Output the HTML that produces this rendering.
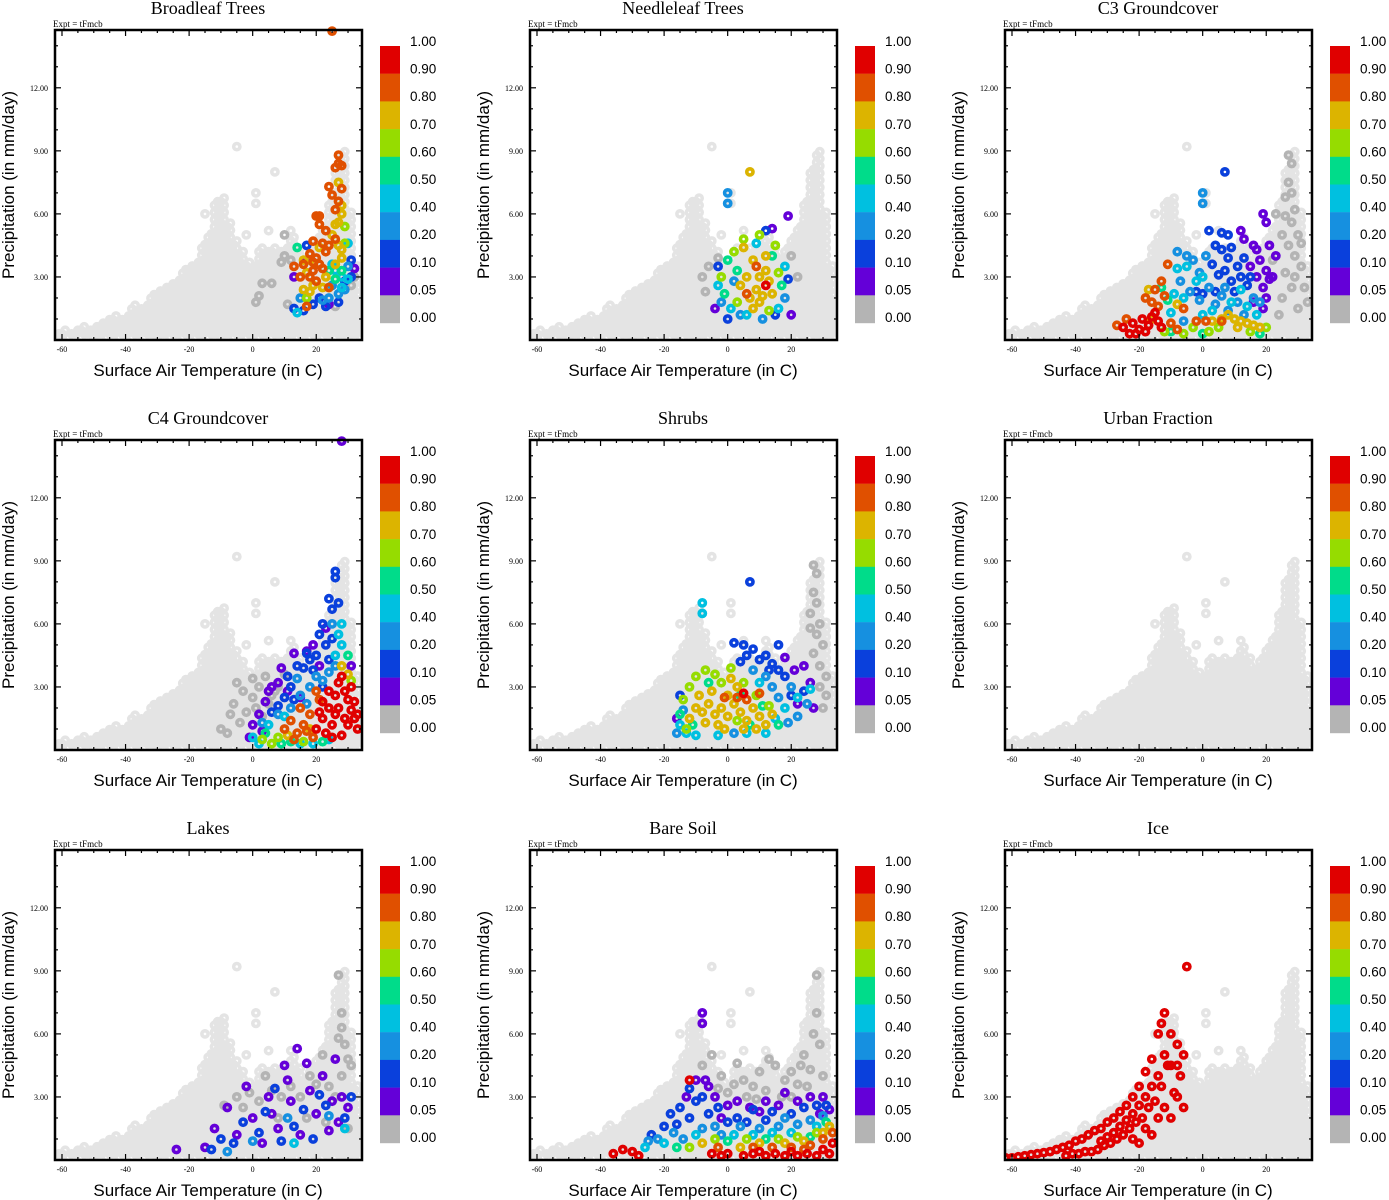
<!DOCTYPE html>
<html><head><meta charset="utf-8"><style>
html,body{margin:0;padding:0;background:#fff;}
svg{display:block;}
.ttl{font-family:"Liberation Serif",serif;font-size:18px;}
.ex{font-family:"Liberation Serif",serif;font-size:9px;}
.tk{font-family:"Liberation Serif",serif;font-size:8px;}
.ax{font-family:"Liberation Sans",sans-serif;font-size:17px;}
.cb{font-family:"Liberation Sans",sans-serif;font-size:13.5px;}
</style></head><body>
<svg id="fig" width="1389" height="1200" xmlns="http://www.w3.org/2000/svg"></svg>
<script>
const panelTitles=["Broadleaf Trees","Needleleaf Trees","C3 Groundcover","C4 Groundcover","Shrubs","Urban Fraction","Lakes","Bare Soil","Ice"];
const xTicks=[-60,-40,-20,0,20];
const yTicks=[3,6,9,12];
const cbLabels=["1.00","0.90","0.80","0.70","0.60","0.50","0.40","0.20","0.10","0.05","0.00"];
const classColors=["#b4b4b4","#6400d8","#0a40dc","#1690e0","#00c0e0","#00dc8a","#96dc00","#dcb400","#e05000","#e00000"];
// background envelope: [temperature, max precipitation of dense cloud]
const bgEnvelope=[[-62,0.2],[-60,0.3],[-58,0.35],[-56,0.4],[-54,0.5],[-52,0.6],[-50,0.7],[-48,0.8],[-46,0.9],[-44,1.0],[-42,1.1],[-40,1.3],[-38,1.5],[-36,1.6],[-34,1.8],[-32,2.0],[-30,2.2],[-28,2.5],[-26,2.6],[-24,2.8],[-22,3.2],[-20,3.4],[-18,3.8],[-16,4.5],[-14,5.0],[-12,6.5],[-10,6.8],[-8,5.5],[-6,4.8],[-4,4.2],[-2,3.8],[0,3.6],[2,4.2],[4,4.3],[6,4.2],[8,4.2],[10,4.5],[12,4.8],[14,4.2],[16,4.0],[18,4.5],[20,5.0],[22,5.5],[24,6.5],[26,8.0],[28,8.8],[30,6.0],[32,3.5],[34,2.0]];
const bgOutliers=[[-5,9.2],[7,8],[1,7],[1,6.5],[5,5.2],[-2,5],[12,5.2],[-15,6.0]];
const broadleaf=[[25,14.7,8],[27,8.8,8],[27,8.4,8],[26,8.2,8],[28,8.3,8],[24,7.3,8],[28,7.2,8],[25,6.9,8],[27,6.6,8],[26,6.2,8],[20,5.9,8],[21,5.9,8],[21,5.5,8],[23,5.2,8],[19,4.7,8],[22,4.6,8],[24,4.5,8],[18,4.1,8],[20,3.9,8],[21,3.6,8],[19,3.3,8],[16,3.6,8],[13,3.5,8],[22,3.4,8],[18,3.0,8],[15,3.0,8],[20,2.8,8],[24,2.5,8],[17,1.6,8],[26,4.8,8],[23,4.2,8],[19,3.7,8],
[27,7.5,7],[28,6.4,7],[28,6.0,7],[27,5.6,7],[26,5.5,7],[25,5.0,7],[27,4.5,7],[28,4.3,7],[21,4.4,7],[18,3.8,7],[16,3.8,7],[17,3.2,7],[19,2.6,7],[16,2.4,7],[18,2.3,7],[23,3.0,7],[26,3.6,7],[28,3.9,7],[22,2.5,7],
[29,5.4,6],[29,4.6,6],[24,2.5,6],[17,2.0,6],[14,4.4,5],[26,2.9,5],[28,3.3,5],[24,3.3,5],
[30,4.6,4],[25,3.6,4],[26,3.3,4],[28,3.0,4],[30,2.9,4],[14,1.3,4],[28,2.5,4],
[24,2.0,3],[27,2.2,3],[29,2.4,3],[15,2.0,3],[30,3.5,3],[22,1.9,3],[25,2.6,3],
[31,3.8,2],[17,4.5,2],[13,1.5,2],[16,1.4,2],[19,1.7,2],[21,2.0,2],[27,1.8,2],[29,2.8,2],[31,3.0,2],[23,1.6,2],
[13,3.0,1],[32,3.4,1],[24,1.7,1],[17,3.8,1],
[10,5.0,0],[10,4.0,0],[12,3.8,0],[9,3.7,0],[3,2.7,0],[6,2.7,0],[2,2.1,0],[1,1.8,0],[11,1.7,0],[26,1.6,0],[31,2.6,0],[32,3.0,0]];
const needleleaf=[[7,8,7],[0,7,3],[0,6.5,3],[19,5.9,1],
[5,4.4,7],[8,3.8,7],[10,3.0,7],[12,3.3,7],[6,3.0,7],[9,2.4,7],[11,2.1,7],[7,2.0,7],[13,2.8,7],[4,2.6,7],[8,1.5,7],[10,1.8,7],[12,4.0,7],[14,2.2,7],
[2,4.2,6],[5,4.8,6],[10,5.0,6],[15,4.5,6],[-2,3.0,6],[16,3.2,6],[3,1.8,6],[13,1.4,6],
[0,3.8,5],[-1,2.2,5],[14,4.0,5],[17,2.6,5],[3,3.3,5],
[-3,2.6,4],[1,1.5,4],[16,1.5,4],[18,3.5,4],[6,1.2,4],[9,4.6,4],
[-2,1.8,3],[2,2.8,3],[11,1.0,3],[18,2.0,3],[4,1.2,3],
[-3,3.5,2],[0,1.0,2],[15,1.2,2],[19,2.9,2],[12,5.2,2],
[-4,1.5,1],[20,1.2,1],[14,5.3,1],[9,3.5,8],[6,2.2,8],[12,2.6,9],
[-8,3.0,0],[-6,3.5,0],[-3,3.9,0],[-7,2.3,0],[20,4.0,0],[22,3.0,0]];
const c3=[[-25,0.6,9],[-22,0.8,9],[-20,0.5,9],[-19,1.0,9],[-17,0.7,9],[-16,1.1,9],[-14,0.9,9],[-13,0.6,9],[-18,0.4,9],[-21,0.3,9],[-15,1.3,9],[-23,0.3,9],
[-27,0.7,8],[-24,1.0,8],[-16,1.8,8],[-15,2.4,8],[-13,2.8,8],[-11,3.6,8],[-14,1.6,8],[-12,2.1,8],[-18,2.0,8],[-10,0.8,8],[-2,0.9,8],[1,0.9,8],[6,0.9,8],[-8,0.5,8],[-6,1.5,8],
[-17,2.4,7],[-16,1.0,7],[-8,1.7,7],[3,0.9,7],[8,1.2,7],[10,1.0,7],[12,0.9,7],[14,0.8,7],[16,0.7,7],[18,0.6,7],[6,1.0,7],[11,0.6,7],
[-12,0.4,6],[-3,0.6,6],[-6,0.3,6],[2,0.4,6],[15,0.4,6],[20,0.6,6],[5,0.6,6],
[-11,1.9,5],[-10,0.4,5],[-13,2.5,5],[0,0.3,5],[18,0.3,5],
[-9,2.2,4],[-8,3.4,4],[-5,3.5,4],[-2,2.8,4],[0,3.0,4],[-6,2.0,4],[3,1.4,4],[9,1.8,4],[14,1.6,4],[17,1.2,4],[-10,1.3,4],[0,1.2,4],[12,2.4,4],
[-5,4.0,3],[-3,3.8,3],[-7,2.8,3],[-4,2.3,3],[-1,1.9,3],[2,2.5,3],[4,1.7,3],[6,2.1,3],[8,1.4,3],[11,1.8,3],[16,2.0,3],[-8,4.2,3],[-1,3.2,3],[1,4.0,3],[7,2.5,3],[18,1.8,3],[-6,0.9,3],[13,1.2,3],[0,7.0,3],[0,6.5,3],
[7,8.0,2],[2,5.2,2],[6,5.1,2],[8,5.0,2],[4,4.5,2],[6,4.3,2],[9,4.4,2],[3,3.6,2],[5,3.1,2],[7,3.3,2],[9,2.8,2],[11,3.5,2],[8,3.9,2],[12,3.0,2],[14,2.6,2],[10,2.3,2],[0,2.2,2],[-2,2.3,2],[4,2.3,2],[13,3.9,2],[15,3.0,2],
[19,6.0,1],[20,5.6,1],[12,5.2,1],[13,4.8,1],[16,4.5,1],[17,4.3,1],[18,3.8,1],[20,3.3,1],[21,2.9,1],[17,3.0,1],[19,2.5,1],[15,3.5,1],[22,3.0,1],[20,2.0,1],[16,1.8,1],[19,1.5,1],[23,4.0,1],[21,4.5,1],
[23,6.0,0],[25,5.0,0],[27,8.8,0],[28,8.4,0],[27,7.5,0],[28,7.0,0],[26,6.8,0],[29,6.2,0],[28,5.6,0],[30,5.0,0],[27,4.5,0],[29,4.0,0],[31,3.5,0],[32,2.5,0],[26,3.2,0],[25,2.0,0],[30,1.5,0],[24,1.2,0],[22,3.8,0],[33,1.8,0],[28,2.5,0],[29,3.0,0],[31,4.6,0],[26,5.9,0]];
const c4=[[20,1.0,9],[22,1.5,9],[24,2.0,9],[26,2.6,9],[27,3.2,9],[28,3.5,9],[29,2.8,9],[30,2.4,9],[31,1.9,9],[32,1.5,9],[33,1.0,9],[25,1.2,9],[23,0.8,9],[28,0.7,9],[30,1.2,9],[26,1.7,9],[22,2.3,9],[24,2.8,9],[29,1.5,9],[32,2.3,9],[27,2.0,9],[21,1.8,9],[31,3.0,9],[33,1.7,9],[25,0.6,9],
[10,1.0,8],[12,1.4,8],[14,0.8,8],[16,1.2,8],[18,1.7,8],[15,2.0,8],[20,2.8,8],[19,0.6,8],[13,0.5,8],[17,0.9,8],[21,2.4,8],
[30,3.6,7],[18,1.0,7],[11,0.7,7],[28,4.0,7],[31,3.3,6],[3,0.5,6],[8,0.6,6],[6,0.3,6],[16,0.4,6],
[4,0.8,5],[9,0.3,5],[12,0.4,5],[22,0.4,5],[30,4.5,5],
[27,5.5,4],[28,5.0,4],[26,4.5,4],[0,0.6,4],[5,1.2,4],[10,1.6,4],[19,0.3,4],[24,0.5,4],[15,0.3,4],[28,6.0,4],[2,0.3,4],
[25,6.0,3],[26,4.0,3],[24,3.7,3],[22,3.3,3],[12,2.0,3],[15,2.6,3],[8,1.7,3],[14,3.4,3],[18,3.0,3],[20,3.5,3],[3,1.3,3],[17,2.2,3],
[26,8.5,2],[26,8.2,2],[27,7.0,2],[24,7.2,2],[25,6.7,2],[22,6.0,2],[21,5.5,2],[23,5.0,2],[24,4.3,2],[20,4.5,2],[18,4.3,2],[16,3.9,2],[14,4.0,2],[12,3.0,2],[10,2.5,2],[8,2.1,2],[6,1.8,2],[19,3.8,2],[22,3.0,2],[17,4.6,2],[25,5.3,2],[11,3.5,2],[13,2.4,2],
[28,14.7,1],[23,5.8,1],[19,5.0,1],[17,4.7,1],[13,4.6,1],[9,3.9,1],[6,3.0,1],[4,2.3,1],[2,1.7,1],[0,1.2,1],[-1,0.6,1],[11,2.8,1],[15,2.5,1],[21,4.0,1],[8,3.2,1],[3,0.9,1],[5,2.8,1],[31,4.0,1],
[-10,1.0,0],[-8,0.8,0],[-5,3.2,0],[-3,2.8,0],[0,2.5,0],[2,3.0,0],[4,3.5,0],[6,2.6,0],[8,3.0,0],[-6,2.2,0],[-2,1.8,0],[1,2.0,0],[3,1.6,0],[5,2.2,0],[-4,1.3,0],[10,3.6,0],[-7,1.7,0],[7,2.8,0],[0,3.4,0]];
const shrubs=[[-10,2.0,7],[-8,1.8,7],[-6,2.2,7],[-4,1.7,7],[-2,2.0,7],[0,1.6,7],[2,2.2,7],[4,1.8,7],[6,1.4,7],[8,2.0,7],[10,1.6,7],[12,1.2,7],[-12,1.5,7],[-5,2.8,7],[0,2.6,7],[3,3.0,7],[-3,1.2,7],[-7,1.3,7],[5,1.0,7],[9,1.0,7],[-9,2.6,7],[1,3.4,7],[14,1.7,7],[-1,1.0,7],
[-14,2.4,6],[-12,3.0,6],[-10,3.5,6],[-7,3.8,6],[-4,3.6,6],[-2,3.2,6],[1,3.9,6],[5,3.2,6],[-13,1.0,6],[3,1.4,6],[9,2.6,6],[13,2.1,6],
[-15,1.7,5],[-11,1.2,5],[-6,3.2,5],[4,2.6,5],[11,2.1,5],[16,1.2,5],[7,1.2,5],
[3,2.5,8],[6,2.4,8],[-1,2.5,8],[10,2.7,8],[5,2.7,9],
[-8,7.0,4],[-8,6.5,4],[-15,1.2,4],[-13,0.8,4],[10,3.2,4],[15,1.5,4],[18,2.0,4],[22,2.5,4],[-3,0.7,4],[6,0.8,4],[12,0.8,4],[-10,0.7,4],[26,2.9,4],
[-14,1.9,3],[8,3.8,3],[12,3.5,3],[16,2.5,3],[19,1.3,3],[22,1.6,3],[25,2.2,3],[-16,0.8,3],[14,3.0,3],[20,3.0,3],[2,0.8,3],
[7,8.0,2],[2,5.1,2],[5,5.0,2],[8,4.8,2],[10,4.3,2],[12,4.5,2],[14,4.1,2],[4,4.2,2],[6,4.5,2],[16,3.8,2],[18,3.5,2],[20,2.6,2],[24,2.8,2],[-15,2.6,2],[16,5.0,2],[13,3.8,2],
[18,4.4,1],[24,4.0,1],[21,3.8,1],[26,3.2,1],[22,2.2,1],[27,2.0,1],[-16,1.5,1],
[27,8.8,0],[28,8.4,0],[27,7.5,0],[28,7.0,0],[26,6.5,0],[29,6.0,0],[28,5.5,0],[30,5.0,0],[27,4.6,0],[29,4.0,0],[31,3.5,0],[29,3.0,0],[31,2.6,0],[26,5.8,0],[30,2.0,0]];
const urban=[];
const lakes=[[-24,0.5,1],[-15,0.6,1],[-12,1.5,1],[-8,2.5,1],[-5,1.2,1],[0,2.0,1],[3,0.8,1],[5,3.0,1],[8,1.5,1],[10,4.5,1],[12,2.8,1],[14,5.3,1],[15,1.2,1],[18,3.3,1],[20,2.2,1],[22,4.0,1],[24,1.4,1],[25,2.8,1],[28,3.0,1],[30,2.5,1],[27,1.8,1],[-2,3.5,1],[6,2.2,1],[17,4.6,1],[11,3.8,1],[26,4.8,1],
[-13,0.5,2],[-10,1.0,2],[-6,0.8,2],[-3,1.8,2],[2,1.3,2],[4,2.3,2],[9,0.9,2],[13,1.6,2],[16,2.4,2],[19,1.0,2],[23,2.6,2],[29,2.0,2],[31,3.0,2],[21,3.1,2],[7,3.4,2],
[-8,0.4,3],[0,0.9,3],[11,2.0,3],[24,2.1,3],[13,0.8,4],[29,1.5,4],
[-9,2.6,0],[-5,3.0,0],[-1,3.2,0],[2,2.8,0],[6,3.3,0],[9,3.0,0],[12,3.5,0],[15,3.0,0],[18,4.0,0],[20,3.6,0],[24,3.5,0],[27,8.8,0],[28,7.0,0],[28,6.3,0],[29,5.5,0],[30,4.8,0],[27,5.8,0],[28,4.0,0],[31,4.5,0],[26,3.0,0],[23,1.8,0],[30,1.5,0],[4,4.0,0],[8,2.0,0],[17,2.0,0],[-3,2.5,0],[22,5.0,0]];
const bareSoil=[[-36,0.3,9],[-33,0.5,9],[-30,0.4,9],[-28,0.2,9],[-12,3.8,9],[-5,0.3,9],[0,0.3,9],[5,0.2,9],[10,0.4,9],[15,0.3,9],[20,0.4,9],[25,0.3,9],[30,0.5,9],[33,0.8,9],[32,0.3,9],[22,0.2,9],[12,0.2,9],[-2,0.2,9],[28,0.2,9],[18,0.2,9],[8,0.3,9],
[14,0.6,8],[20,0.6,8],[26,0.7,8],[30,1.0,8],[33,1.3,8],[24,0.5,8],[8,0.6,8],[-3,0.6,8],
[10,0.8,7],[18,0.8,7],[24,0.9,7],[30,1.3,7],[-8,0.8,7],[4,0.6,7],[32,1.6,7],
[-12,0.6,6],[-4,1.0,6],[6,1.0,6],[16,1.0,6],[22,1.1,6],[28,1.3,6],
[-16,0.6,5],[0,0.9,5],[12,1.0,5],[26,1.1,5],[31,1.8,5],
[-20,0.8,4],[-10,1.2,4],[2,1.2,4],[14,1.3,4],[20,1.3,4],[28,1.6,4],[-26,0.6,4],[8,1.2,4],
[-22,1.0,3],[-17,1.3,3],[-14,1.0,3],[-8,1.5,3],[-4,1.6,3],[4,1.6,3],[10,1.5,3],[16,1.6,3],[22,1.7,3],[26,1.9,3],[30,2.1,3],[-2,1.2,3],[18,2.0,3],[-25,0.9,3],
[-24,1.2,2],[-20,1.6,2],[-18,2.2,2],[-15,2.5,2],[-12,2.0,2],[-10,2.8,2],[-8,3.0,2],[-6,2.2,2],[-3,2.5,2],[0,1.8,2],[3,2.0,2],[6,1.8,2],[12,1.9,2],[14,2.3,2],[20,2.2,2],[24,2.5,2],[28,2.6,2],[-12,3.4,2],[-16,1.7,2],[8,2.4,2],[31,2.6,2],
[-8,7.0,1],[-8,6.5,1],[-10,3.8,1],[-6,3.5,1],[-4,3.0,1],[0,2.6,1],[-2,2.0,1],[3,2.8,1],[7,2.5,1],[10,2.3,1],[16,2.6,1],[22,2.8,1],[26,3.0,1],[30,3.0,1],[32,2.4,1],[-7,3.8,1],[-13,3.0,1],[18,3.2,1],[12,2.8,1],[29,2.2,1],
[-5,5.0,0],[-2,4.0,0],[2,3.6,0],[5,3.8,0],[8,3.5,0],[12,3.3,0],[15,4.5,0],[18,3.8,0],[20,4.2,0],[22,3.6,0],[24,5.0,0],[26,4.3,0],[27,6.0,0],[28,7.0,0],[28,8.8,0],[29,5.5,0],[30,4.0,0],[25,3.5,0],[3,4.6,0],[10,4.2,0],[-8,4.5,0],[13,4.8,0],[17,3.0,0],[6,3.0,0],[0,3.2,0],[-3,3.4,0],[20,3.0,0],[23,4.5,0],[9,2.9,0]];
const ice=[[-62,0.1,9],[-60,0.1,9],[-58,0.15,9],[-56,0.2,9],[-54,0.25,9],[-52,0.3,9],[-50,0.35,9],[-48,0.4,9],[-46,0.5,9],[-44,0.6,9],[-42,0.7,9],[-40,0.9,9],[-38,1.0,9],[-36,1.2,9],[-34,1.4,9],[-32,1.5,9],[-30,1.8,9],[-28,2.0,9],[-26,2.3,9],[-24,2.6,9],[-22,3.0,9],[-20,3.5,9],[-18,4.2,9],[-16,4.8,9],[-14,6.0,9],[-13,6.5,9],[-12,7.0,9],[-10,6.0,9],[-8,5.5,9],[-6,5.0,9],[-5,9.2,9],[-7,4.0,9],[-9,3.2,9],[-11,4.5,9],[-13,3.5,9],[-15,2.8,9],[-17,2.5,9],[-19,2.0,9],[-21,1.8,9],[-23,1.5,9],[-25,1.2,9],[-27,1.0,9],[-29,0.8,9],[-31,0.7,9],[-33,0.5,9],[-35,0.4,9],[-37,0.4,9],[-39,0.3,9],[-41,0.3,9],[-43,0.2,9],[-14,4.0,9],[-16,3.5,9],[-18,3.0,9],[-20,2.6,9],[-22,2.2,9],[-24,1.9,9],[-26,1.6,9],[-28,1.3,9],[-30,1.1,9],[-32,0.9,9],[-12,2.5,9],[-10,2.0,9],[-8,3.0,9],[-6,2.5,9],[-12,5.0,9],[-10,4.5,9],[-14,2.0,9],[-18,1.5,9],[-22,1.0,9],[-16,1.2,9],[-20,0.8,9],[-8,4.5,9]];
const panelData=[broadleaf,needleleaf,c3,c4,shrubs,urban,lakes,bareSoil,ice];

const NS="http://www.w3.org/2000/svg";
const svg=document.getElementById('fig');
function mk(tag,attrs,parent){const e=document.createElementNS(NS,tag);for(const k in attrs)e.setAttribute(k,attrs[k]);parent.appendChild(e);return e;}
const BX0=55,BX1=362,BY0=30,BY1=340,TMIN=-62.2,TMAX=34.4,PMIN=0,PMAX=14.75;
const sx=t=>BX0+(t-TMIN)/(TMAX-TMIN)*(BX1-BX0);
const sy=p=>BY1-(p-PMIN)/(PMAX-PMIN)*(BY1-BY0);
function dot(g,t,p,color){
  return mk('circle',{cx:sx(t).toFixed(1),cy:sy(p).toFixed(1),r:3.1,fill:'none',stroke:color,'stroke-width':3.6},g);
}
for(let i=0;i<9;i++){
  const ox=(i%3)*475, oy=Math.floor(i/3)*410;
  const g=mk('g',{transform:`translate(${ox},${oy})`},svg);
  
  
  const t=mk('text',{x:208,y:14,'text-anchor':'middle',class:'ttl'},g);t.textContent=panelTitles[i];
  
  
  const ex=mk('text',{x:53,y:27,class:'ex'},g);ex.textContent='Expt = tFmcb';
  
  
  const clip='clip'+i;
  const cp=mk('clipPath',{id:clip},g);mk('rect',{x:BX0,y:BY0-6,width:BX1-BX0,height:BY1-BY0+6},cp);
  const pts=mk('g',{'clip-path':`url(#${clip})`},g);
  
  
  const bg=mk('g',{},pts);
  
  
  bgEnvelope.forEach(([tt,pm],k)=>{
    const off=(k%2)*0.17;
    for(let p=0.12+off;p<=pm;p+=0.34){dot(bg,tt,p,'#e4e4e4');dot(bg,tt+1,p+0.17,'#e4e4e4');}
  });
  bgOutliers.forEach(([tt,pp])=>dot(bg,tt,pp,'#e4e4e4'));
  const d=panelData[i].slice().sort((a,b)=>a[2]-b[2]);
  d.forEach(([tt,pp,c])=>{
    const m=dot(pts,tt,pp,classColors[c]);
    
    
  });
  const box=mk('rect',{x:BX0,y:BY0,width:BX1-BX0,height:BY1-BY0,fill:'none',stroke:'#000','stroke-width':2.5},g);
  
  
  for(let tv=-60;tv<=30;tv+=5){
    const x=sx(tv),L=(tv%20===0)?6:3;
    mk('line',{x1:x,y1:BY1,x2:x,y2:BY1-L,stroke:'#000','stroke-width':1.2},g);
    mk('line',{x1:x,y1:BY0,x2:x,y2:BY0+L,stroke:'#000','stroke-width':1.2},g);
  }
  for(let pv=1;pv<=14;pv+=1){
    const y=sy(pv),L=(pv%3===0)?6:3;
    mk('line',{x1:BX0,y1:y,x2:BX0+L,y2:y,stroke:'#000','stroke-width':1.2},g);
    mk('line',{x1:BX1,y1:y,x2:BX1-L,y2:y,stroke:'#000','stroke-width':1.2},g);
  }
  xTicks.forEach(v=>{const e=mk('text',{x:sx(v),y:BY1+12,'text-anchor':'middle',class:'tk'},g);e.textContent=v;
    
    });
  yTicks.forEach(v=>{const e=mk('text',{x:BX0-7,y:sy(v)+3,'text-anchor':'end',class:'tk'},g);e.textContent=v.toFixed(2);
    
    });
  const xl=mk('text',{x:208,y:376,'text-anchor':'middle',class:'ax'},g);xl.textContent='Surface Air Temperature (in C)';
  
  
  const yl=mk('text',{x:0,y:0,'text-anchor':'middle',class:'ax',transform:'translate(14,185) rotate(-90)'},g);yl.textContent='Precipitation (in mm/day)';
  
  
  const cb=mk('g',{},g);
  
  
  for(let k=0;k<10;k++){
    mk('rect',{x:380,y:46+k*27.7,width:20,height:27.9,fill:classColors[9-k]},cb);
  }
  cbLabels.forEach((s,k)=>{const e=mk('text',{x:410,y:46+k*27.6,class:'cb'},cb);e.textContent=s;
    
    });
}
</script>
</body></html>
